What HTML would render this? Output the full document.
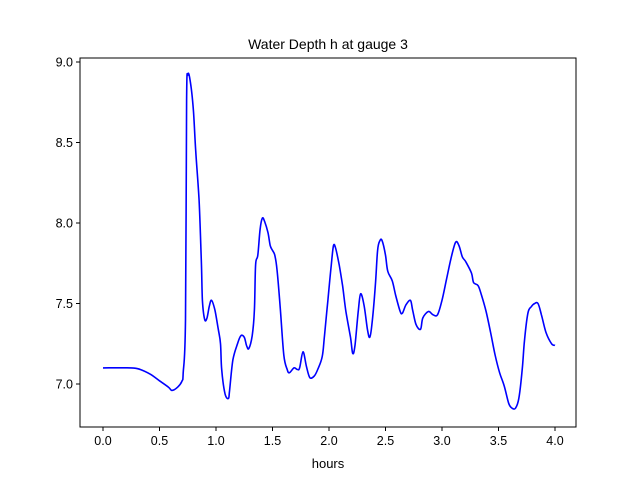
<!DOCTYPE html>
<html><head><meta charset="utf-8"><style>
body{margin:0;background:#fff;}
svg text{font-family:"Liberation Sans","DejaVu Sans",sans-serif;fill:#000;}
</style></head><body>
<svg width="640" height="480" xmlns="http://www.w3.org/2000/svg">
<rect width="640" height="480" fill="#fff"/>
<text x="328" y="49" font-size="14" text-anchor="middle">Water Depth h at gauge 3</text>
<g id="axes"></g>
<text x="328" y="468" font-size="13" text-anchor="middle">hours</text>
</svg>
<script>
const hours=[0,0.25,0.33,0.42,0.50,0.58,0.61,0.66,0.70,0.71,0.73,0.74,0.75,0.77,0.80,0.82,0.85,0.87,0.88,0.90,0.92,0.94,0.96,0.99,1.02,1.04,1.05,1.08,1.11,1.12,1.15,1.19,1.22,1.25,1.27,1.29,1.32,1.34,1.35,1.37,1.39,1.41,1.43,1.46,1.48,1.50,1.52,1.54,1.57,1.60,1.63,1.65,1.69,1.72,1.74,1.77,1.80,1.83,1.87,1.90,1.94,1.96,1.99,2.02,2.04,2.06,2.09,2.12,2.15,2.19,2.21,2.23,2.26,2.28,2.31,2.34,2.36,2.38,2.41,2.43,2.45,2.47,2.50,2.52,2.56,2.59,2.63,2.65,2.68,2.72,2.74,2.77,2.81,2.83,2.88,2.92,2.96,3.00,3.04,3.08,3.12,3.15,3.18,3.21,3.26,3.28,3.32,3.35,3.39,3.43,3.47,3.51,3.55,3.59,3.62,3.65,3.68,3.71,3.73,3.76,3.79,3.82,3.85,3.88,3.92,3.97,4.00];
const depth=[7.10,7.10,7.09,7.06,7.02,6.98,6.96,6.98,7.02,7.07,7.40,8.76,8.92,8.89,8.70,8.45,8.14,7.77,7.52,7.40,7.41,7.48,7.52,7.46,7.34,7.25,7.09,6.94,6.91,6.96,7.15,7.25,7.30,7.29,7.24,7.22,7.30,7.46,7.74,7.80,7.96,8.03,8.01,7.94,7.86,7.83,7.80,7.71,7.46,7.18,7.09,7.07,7.10,7.09,7.10,7.20,7.11,7.04,7.05,7.09,7.17,7.30,7.52,7.74,7.86,7.84,7.74,7.61,7.45,7.29,7.19,7.24,7.46,7.56,7.49,7.34,7.29,7.37,7.61,7.83,7.89,7.89,7.80,7.70,7.64,7.55,7.45,7.44,7.49,7.52,7.46,7.37,7.34,7.41,7.45,7.43,7.43,7.52,7.65,7.78,7.88,7.86,7.79,7.76,7.69,7.63,7.61,7.55,7.45,7.32,7.18,7.07,6.99,6.88,6.85,6.85,6.91,7.09,7.27,7.44,7.48,7.50,7.50,7.43,7.32,7.25,7.24];
const xTicks=[0,0.5,1,1.5,2,2.5,3,3.5,4];
const xTickLabels=["0.0","0.5","1.0","1.5","2.0","2.5","3.0","3.5","4.0"];
const yTicks=[7,7.5,8,8.5,9];
const yTickLabels=["7.0","7.5","8.0","8.5","9.0"];
const NS="http://www.w3.org/2000/svg";
const L=80,R=576,T=58,B=427;
const xs=h=>103+(h-0)*(452/4);
const ys=v=>384-(v-7)*(322/2);
const g=document.getElementById('axes');
function mk(t,a){const e=document.createElementNS(NS,t);for(const k in a)e.setAttribute(k,a[k]);g.appendChild(e);return e;}
xTicks.forEach((t,i)=>{
 const ln=mk('line',{x1:xs(t),x2:xs(t),y1:B,y2:B+4,stroke:'#000','stroke-width':1});
 
 
 const tx=mk('text',{x:xs(t),y:B+18,'font-size':12.5,'text-anchor':'middle'});
 tx.textContent=xTickLabels[i];
 
 
});
yTicks.forEach((t,i)=>{
 const ln=mk('line',{x1:L-4,x2:L,y1:ys(t),y2:ys(t),stroke:'#000','stroke-width':1});
 
 
 const tx=mk('text',{x:L-7,y:ys(t)+4.5,'font-size':12.5,'text-anchor':'end'});
 tx.textContent=yTickLabels[i];
 
 
});
const P=hours.map((h,i)=>[xs(h),ys(depth[i])]);
let d='M'+P[0][0].toFixed(1)+','+P[0][1].toFixed(1);
for(let i=0;i<P.length-1;i++){
 const p0=P[Math.max(0,i-1)],p1=P[i],p2=P[i+1],p3=P[Math.min(P.length-1,i+2)];
 const c1x=p1[0]+(p2[0]-p0[0])/6,c1y=p1[1]+(p2[1]-p0[1])/6;
 const c2x=p2[0]-(p3[0]-p1[0])/6,c2y=p2[1]-(p3[1]-p1[1])/6;
 d+=' C'+c1x.toFixed(1)+','+c1y.toFixed(1)+' '+c2x.toFixed(1)+','+c2y.toFixed(1)+' '+p2[0].toFixed(1)+','+p2[1].toFixed(1);
}
const line=mk('path',{d:d,fill:'none',stroke:'#0000ff','stroke-width':1.6,'stroke-linejoin':'round'});


const fr=mk('rect',{x:L,y:T,width:R-L,height:B-T,fill:'none',stroke:'#000','stroke-width':1});


</script>
</body></html>
